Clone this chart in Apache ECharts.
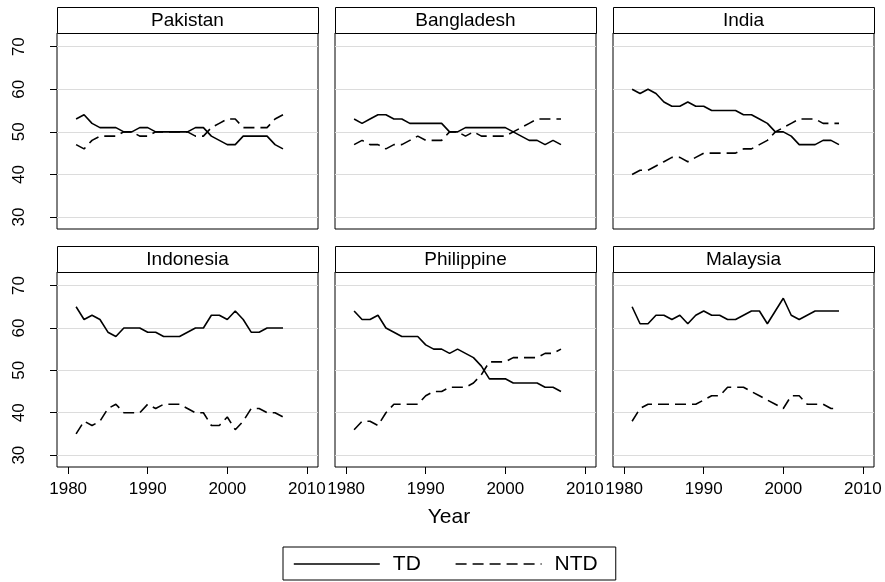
<!DOCTYPE html>
<html>
<head>
<meta charset="utf-8">
<script src="https://cdn.jsdelivr.net/npm/echarts@6/dist/echarts.min.js"></script>
<style>
  html, body { margin: 0; padding: 0; background: #fff; }
  #chart { width: 885px; height: 582px; }
</style>
</head>
<body>
<div id="chart"></div>
<script>
// panels, in reading order
const countries = ["Pakistan", "Bangladesh", "India", "Indonesia", "Philippine", "Malaysia"];
const years = [1981, 1982, 1983, 1984, 1985, 1986, 1987, 1988, 1989, 1990, 1991, 1992, 1993, 1994,
  1995, 1996, 1997, 1998, 1999, 2000, 2001, 2002, 2003, 2004, 2005, 2006, 2007];
const xTicks = [1980, 1990, 2000, 2010];
const yTicks = [30, 40, 50, 60, 70];

// TD values per country
const tdPakistan   = [53, 54, 52, 51, 51, 51, 50, 50, 51, 51, 50, 50, 50, 50, 50, 51, 51, 49, 48, 47, 47, 49, 49, 49, 49, 47, 46];
const tdBangladesh = [53, 52, 53, 54, 54, 53, 53, 52, 52, 52, 52, 52, 50, 50, 51, 51, 51, 51, 51, 51, 50, 49, 48, 48, 47, 48, 47];
const tdIndia      = [60, 59, 60, 59, 57, 56, 56, 57, 56, 56, 55, 55, 55, 55, 54, 54, 53, 52, 50, 50, 49, 47, 47, 47, 48, 48, 47];
const tdIndonesia  = [65, 62, 63, 62, 59, 58, 60, 60, 60, 59, 59, 58, 58, 58, 59, 60, 60, 63, 63, 62, 64, 62, 59, 59, 60, 60, 60];
const tdPhilippine = [64, 62, 62, 63, 60, 59, 58, 58, 58, 56, 55, 55, 54, 55, 54, 53, 51, 48, 48, 48, 47, 47, 47, 47, 46, 46, 45];
const tdMalaysia   = [65, 61, 61, 63, 63, 62, 63, 61, 63, 64, 63, 63, 62, 62, 63, 64, 64, 61, 64, 67, 63, 62, 63, 64, 64, 64, 64];

// NTD values per country
const ntdPakistan   = [47, 46, 48, 49, 49, 49, 50, 50, 49, 49, 50, 50, 50, 50, 50, 49, 49, 51, 52, 53, 53, 51, 51, 51, 51, 53, 54];
const ntdBangladesh = [47, 48, 47, 47, 46, 47, 47, 48, 49, 48, 48, 48, 50, 50, 49, 50, 49, 49, 49, 49, 50, 51, 52, 53, 53, 53, 53];
const ntdIndia      = [40, 41, 41, 42, 43, 44, 44, 43, 44, 45, 45, 45, 45, 45, 46, 46, 47, 48, 50, 51, 52, 53, 53, 53, 52, 52, 52];
const ntdIndonesia  = [35, 38, 37, 38, 41, 42, 40, 40, 40, 42, 41, 42, 42, 42, 41, 40, 40, 37, 37, 39, 36, 38, 41, 41, 40, 40, 39];
const ntdPhilippine = [36, 38, 38, 37, 40, 42, 42, 42, 42, 44, 45, 45, 46, 46, 46, 47, 49, 52, 52, 52, 53, 53, 53, 53, 54, 54, 55];
const ntdMalaysia   = [38, 41, 42, 42, 42, 42, 42, 42, 42, 43, 44, 44, 46, 46, 46, 45, 44, 43, 42, 41, 44, 44, 42, 42, 42, 41, 41];

const tdData = [tdPakistan, tdBangladesh, tdIndia, tdIndonesia, tdPhilippine, tdMalaysia];
const ntdData = [ntdPakistan, ntdBangladesh, ntdIndia, ntdIndonesia, ntdPhilippine, ntdMalaysia];

const colLeft = [57, 335, 613];
const panelW = 261;
const rowTop = [7, 246];   // top of header strip
const headH = 26;
const plotH = [196, 195];
const font = "'Liberation Sans', Arial, sans-serif";

const grids = [], xAxes = [], yAxes = [], series = [], graphics = [];

countries.forEach((name, i) => {
  const col = i % 3, row = Math.floor(i / 3);
  const left = colLeft[col], top = rowTop[row] + headH;
  grids.push({
    left: left, top: top, width: panelW, height: plotH[row],
    show: true, borderColor: "#000", borderWidth: 1, backgroundColor: "#fff"
  });
  graphics.push({
    type: "rect", z: 10,
    shape: { x: left + 0.5, y: rowTop[row] + 0.5, width: panelW, height: headH },
    style: { fill: "#fff", stroke: "#000", lineWidth: 1 }
  });
  graphics.push({
    type: "text", z: 11,
    x: left + panelW / 2, y: rowTop[row] + headH / 2 + 1,
    style: {
      text: name, fontFamily: font, fontSize: 19, fill: "#000",
      align: "center", verticalAlign: "middle"
    }
  });
  xAxes.push({
    type: "value", gridIndex: i, min: 1978.6, max: 2011.4,
    axisLine: { show: false },
    splitLine: { show: false },
    axisTick: { show: row === 1, customValues: xTicks, length: 7, lineStyle: { color: "#000" } },
    axisLabel: {
      show: row === 1, customValues: xTicks, margin: 14,
      formatter: v => String(v),
      fontFamily: font, fontSize: 17, color: "#000"
    }
  });
  yAxes.push({
    type: "value", gridIndex: i, min: 27.2, max: 73.2,
    axisLine: { show: false },
    splitLine: { show: true, lineStyle: { color: "#dcdcdc", width: 1.2 } },
    axisTick: { show: col === 0, customValues: yTicks, length: 7, lineStyle: { color: "#000" } },
    axisLabel: {
      show: col === 0, customValues: yTicks, rotate: 90, margin: 29,
      formatter: v => String(v),
      fontFamily: font, fontSize: 17, color: "#000"
    }
  });
  series.push({
    name: "TD", type: "line", xAxisIndex: i, yAxisIndex: i,
    symbol: "none", animation: false,
    lineStyle: { color: "#000", width: 1.6, type: "solid" },
    itemStyle: { color: "#000" },
    data: years.map((y, k) => [y, tdData[i][k]])
  });
  series.push({
    name: "NTD", type: "line", xAxisIndex: i, yAxisIndex: i,
    symbol: "none", animation: false,
    lineStyle: { color: "#000", width: 1.6, type: [11, 6] },
    itemStyle: { color: "#000" },
    data: years.map((y, k) => [y, ntdData[i][k]])
  });
});

graphics.push({
  type: "text", x: 449, y: 517,
  style: { text: "Year", fontFamily: font, fontSize: 21, fill: "#000", align: "center", verticalAlign: "middle" }
});

const chart = echarts.init(document.getElementById("chart"));
chart.setOption({
  animation: false,
  backgroundColor: "#fff",
  grid: grids,
  xAxis: xAxes,
  yAxis: yAxes,
  series: series,
  graphic: graphics,
  legend: {
    data: ["TD", "NTD"],
    left: 283, top: 547,
    itemWidth: 86, itemHeight: 14, itemGap: 34,
    padding: [5, 18, 4, 10],
    borderColor: "#000", borderWidth: 1,
    itemStyle: { opacity: 0 },
    lineStyle: { width: 1.6 },
    textStyle: { fontFamily: font, fontSize: 21, lineHeight: 24, color: "#000", padding: [0, 0, 0, 8] }
  }
});
</script>
</body>
</html>
